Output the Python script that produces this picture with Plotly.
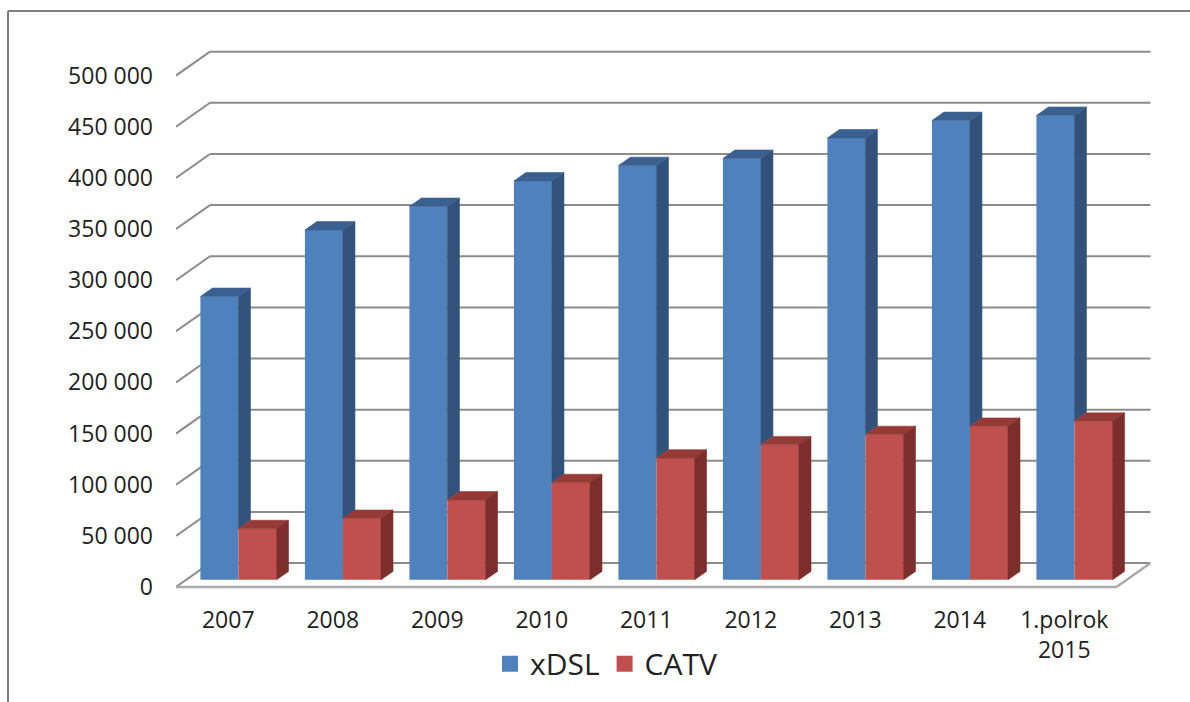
import plotly.graph_objects as go

# ---------------- data ----------------
categories = ["2007", "2008", "2009", "2010", "2011", "2012", "2013", "2014", "1.polrok<br>2015"]
xdsl = [277000, 342000, 365000, 390000, 405000, 412000, 432000, 449000, 454000]
catv = [50000, 60000, 78000, 95000, 119000, 132000, 142000, 150000, 155000]
series_names = ["xDSL", "CATV"]
tick_vals = [0, 50000, 100000, 150000, 200000, 250000, 300000, 350000, 400000, 450000, 500000]
tick_text = ["0", "50 000", "100 000", "150 000", "200 000", "250 000",
             "300 000", "350 000", "400 000", "450 000", "500 000"]

# ---------------- styling / projection ----------------
W, H = 1190, 702
L, R, T, B = 176, 1160, 40, 592          # plot area in pixels
ZERO_PX = 589                            # pixel row of value 0 on the front plane
PX_PER_CAT = 104.5
PX_PER_VAL = 513.3 / 500000
NCAT = len(categories)

x_range = [0, (R - L) / PX_PER_CAT]
y_range = [-(B - ZERO_PX) / PX_PER_VAL, (ZERO_PX - T) / PX_PER_VAL]

DX = 34 / PX_PER_CAT      # full depth, horizontal shift (category units)
DY = 24 / PX_PER_VAL      # full depth, vertical shift (value units)
D1 = 0.30                 # depth of bar front faces
BD = 0.353                # bar depth
BW = 0.364                # bar width (category units)

BLUE = "#4F81BD"; BLUE_TOP = "#3A6090"; BLUE_SIDE = "#32527C"
RED = "#C0504D"; RED_TOP = "#963A37"; RED_SIDE = "#7D2E2C"
GRID = "#8C8C8C"; FLOOR = "#AAAAAA"; TXT = "#222222"
FONT = "Open Sans"

bx = BD * DX
by = BD * DY
base = D1 * DY
xc = [i + 0.5 + D1 * DX for i in range(NCAT)]

fig = go.Figure()

# front faces
fig.add_trace(go.Bar(x=xc, y=xdsl, base=base, width=BW, offset=-BW,
                     marker=dict(color=BLUE, line=dict(width=0)),
                     name=series_names[0], showlegend=False, hoverinfo="skip"))
fig.add_trace(go.Bar(x=xc, y=catv, base=base, width=BW, offset=0,
                     marker=dict(color=RED, line=dict(width=0)),
                     name=series_names[1], showlegend=False, hoverinfo="skip"))


def poly_trace(polys, color):
    xs, ys = [], []
    for p in polys:
        for (px, py) in p:
            xs.append(px); ys.append(py)
        xs.append(p[0][0]); ys.append(p[0][1])
        xs.append(None); ys.append(None)
    return go.Scatter(x=xs, y=ys, mode="lines", fill="toself", fillcolor=color,
                      line=dict(width=0.6, color=color), showlegend=False,
                      hoverinfo="skip")


blue_side, blue_top, red_side, red_top = [], [], [], []
for i in range(NCAT):
    v, r = xdsl[i], catv[i]
    # blue (left) bar
    xl, xr = xc[i] - BW, xc[i]
    top = base + v
    blue_top.append([(xl, top), (xr, top), (xr + bx, top + by), (xl + bx, top + by)])
    low = base + min(r, v)
    blue_side.append([(xr, low), (xr, top), (xr + bx, top + by), (xr + bx, low + by)])
    # red (right) bar
    xl, xr = xc[i], xc[i] + BW
    top = base + r
    red_top.append([(xl, top), (xr, top), (xr + bx, top + by), (xl + bx, top + by)])
    red_side.append([(xr, base), (xr, top), (xr + bx, top + by), (xr + bx, base + by)])

fig.add_trace(poly_trace(blue_side, BLUE_SIDE))
fig.add_trace(poly_trace(blue_top, BLUE_TOP))
fig.add_trace(poly_trace(red_top, RED_TOP))
fig.add_trace(poly_trace(red_side, RED_SIDE))

# legend entries
fig.add_trace(go.Scatter(x=[None], y=[None], mode="markers", name=series_names[0],
                         marker=dict(symbol="square", size=17, color=BLUE)))
fig.add_trace(go.Scatter(x=[None], y=[None], mode="markers", name=series_names[1],
                         marker=dict(symbol="square", size=17, color=RED)))

# walls: gridlines on back wall + diagonals on left wall
shapes = []
for v in tick_vals:
    shapes.append(dict(type="line", xref="x", yref="y", layer="below",
                       x0=DX, x1=NCAT + DX, y0=v + DY, y1=v + DY,
                       line=dict(color=GRID, width=2)))
    shapes.append(dict(type="line", xref="x", yref="y", layer="below",
                       x0=0, x1=DX, y0=v, y1=v + DY,
                       line=dict(color=GRID, width=2)))
# floor edges
shapes.append(dict(type="line", xref="x", yref="y", layer="below",
                   x0=0, x1=NCAT, y0=0, y1=0, line=dict(color=FLOOR, width=2.5)))
shapes.append(dict(type="line", xref="x", yref="y", layer="below",
                   x0=NCAT, x1=NCAT + DX, y0=0, y1=DY, line=dict(color=FLOOR, width=2.5)))
# outer frame
fx = (8 - L) / (R - L)
fy = (B - 11) / (B - T)
shapes.append(dict(type="line", xref="paper", yref="paper", x0=fx, x1=1.1, y0=fy, y1=fy,
                   line=dict(color="#808080", width=2)))
shapes.append(dict(type="line", xref="paper", yref="paper", x0=fx, x1=fx, y0=fy, y1=-0.3,
                   line=dict(color="#808080", width=2)))

fig.update_layout(
    width=W, height=H,
    margin=dict(l=L, r=W - R, t=T, b=H - B, pad=0),
    paper_bgcolor="white", plot_bgcolor="white",
    barmode="overlay",
    shapes=shapes,
    font=dict(family=FONT, color=TXT, size=23),
    xaxis=dict(range=x_range, showgrid=False, zeroline=False, showline=False,
               tickmode="array", tickvals=[i + 0.5 for i in range(NCAT)],
               ticktext=categories, ticks="", ticklabelstandoff=14,
               tickfont=dict(family=FONT, size=23, color=TXT), fixedrange=True),
    yaxis=dict(range=y_range, showgrid=False, zeroline=False, showline=False,
               tickmode="array", tickvals=tick_vals, ticktext=tick_text,
               ticks="", ticklabelstandoff=22,
               tickfont=dict(family=FONT, size=23, color=TXT), fixedrange=True),
    legend=dict(orientation="h", x=(606 - L) / (R - L), xanchor="center",
                y=(B - 666) / (B - T), yanchor="middle",
                font=dict(family=FONT, size=30, color=TXT),
                bgcolor="rgba(0,0,0,0)"),
    showlegend=True,
)

fig.write_html("out.html",
               config={"displayModeBar": False},
               post_script="document.body.style.margin='0';"
                           "document.body.style.overflow='hidden';")
